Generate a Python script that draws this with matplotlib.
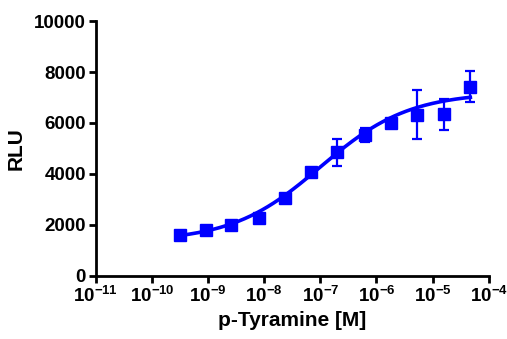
import numpy as np
import matplotlib.pyplot as plt
from matplotlib.ticker import FixedLocator, LogLocator, NullFormatter

plt.rcParams['font.family'] = ['Liberation Sans', 'DejaVu Sans']
plt.rcParams['font.weight'] = 'bold'
plt.rcParams['mathtext.fontset'] = 'custom'
plt.rcParams['mathtext.rm'] = 'Liberation Sans:bold'
plt.rcParams['mathtext.bf'] = 'Liberation Sans:bold'

# concentrations (M) and response (RLU)
conc = [3.2e-10, 9.0e-10, 2.6e-9, 8.0e-9, 2.3e-8, 6.8e-8,
        2.0e-7, 6.3e-7, 1.8e-6, 5.2e-6, 1.6e-5, 4.7e-5]
rlu = [1620, 1810, 1980, 2290, 3060, 4060,
       4850, 5520, 5980, 6330, 6340, 7430]
err = [40, 40, 50, 40, 50, 120,
       540, 270, 130, 970, 600, 620]

# fitted sigmoid (4PL) parameters
bottom = 1350
top = 7200
log_ec50 = -7.0
hill = 0.55

xticks = [1e-11, 1e-10, 1e-9, 1e-8, 1e-7, 1e-6, 1e-5, 1e-4]
xtick_labels = [r'$\mathbf{10^{-11}}$', r'$\mathbf{10^{-10}}$', r'$\mathbf{10^{-9}}$',
                r'$\mathbf{10^{-8}}$', r'$\mathbf{10^{-7}}$', r'$\mathbf{10^{-6}}$',
                r'$\mathbf{10^{-5}}$', r'$\mathbf{10^{-4}}$']
yticks = [0, 2000, 4000, 6000, 8000, 10000]

fig = plt.figure(figsize=(5.07, 3.39), dpi=100)
ax = fig.add_axes([0.189, 0.186, 0.775, 0.752])

# curve across the data range
xs = np.logspace(np.log10(conc[0]), np.log10(conc[-1]), 200)
ys = bottom + (top - bottom) / (1 + 10 ** ((log_ec50 - np.log10(xs)) * hill))
ax.plot(xs, ys, color='#0000ff', lw=2.6, zorder=2)

ax.errorbar(conc, rlu, yerr=err, fmt='s', color='#0000ff', ms=8,
            elinewidth=1.6, capsize=3.5, capthick=1.6, zorder=3)

ax.set_xscale('log')
ax.set_xlim(1e-11, 1e-4)
ax.set_ylim(0, 10000)
ax.xaxis.set_major_locator(FixedLocator(xticks))
ax.set_xticklabels(xtick_labels)
ax.xaxis.set_minor_locator(LogLocator(base=10, subs=np.arange(2, 10)))
ax.xaxis.set_minor_formatter(NullFormatter())
ax.set_yticks(yticks)

for s in ['top', 'right']:
    ax.spines[s].set_visible(False)
for s in ['left', 'bottom']:
    ax.spines[s].set_linewidth(2)

ax.tick_params(axis='both', which='major', direction='out', length=5, width=2,
               labelsize=13.5, pad=2)
ax.tick_params(axis='x', which='minor', direction='out', length=3, width=1.5)

ax.set_xlabel('p-Tyramine [M]', fontsize=15, fontweight='bold', labelpad=4)
ax.set_ylabel('RLU', fontsize=15, fontweight='bold', labelpad=6)

plt.savefig('out.png', dpi=100)
